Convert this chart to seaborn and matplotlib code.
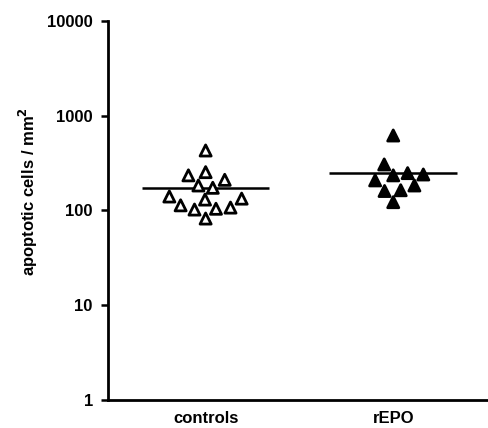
import numpy as np
import pandas as pd
import matplotlib
matplotlib.use("Agg")
import matplotlib.pyplot as plt
import seaborn as sns

categories = ["controls", "rEPO"]
controls = [428, 253, 210, 234, 173, 183, 133, 130, 140, 113, 104, 102, 107, 82]
repo = [616, 305, 239, 234, 247, 207, 163, 183, 160, 122]
yticks = [1, 10, 100, 1000, 10000]
ytick_labels = ["1", "10", "100", "1000", "10000"]

df = pd.DataFrame({
    "group": ["controls"] * len(controls) + ["rEPO"] * len(repo),
    "value": controls + repo,
})

sns.set_style("ticks", {"axes.edgecolor": "black", "text.color": "black",
                        "xtick.color": "black", "ytick.color": "black",
                        "axes.labelcolor": "black"})
plt.rcParams["font.family"] = ["Liberation Sans", "DejaVu Sans"]

fig = plt.figure(figsize=(4.89, 4.28), dpi=100)
ax = fig.add_axes([0.221, 0.0654, 0.775, 0.8862])
ax.set_yscale("log")

sns.swarmplot(data=df, x="group", y="value", hue="group", order=categories,
              palette={"controls": "white", "rEPO": "black"}, marker="^",
              size=8, edgecolor="black", linewidth=2, legend=False, ax=ax)

for i, vals in enumerate([controls, repo]):
    ax.hlines(np.mean(vals), i - 0.34, i + 0.34, color="black", lw=1.8, zorder=1)

ax.set_ylim(1, 10000)
ax.set_xlim(-0.52, 1.5)
ax.set_yticks(yticks)
ax.set_yticklabels(ytick_labels)
ax.yaxis.set_minor_locator(matplotlib.ticker.NullLocator())
ax.tick_params(axis="y", length=5, width=1.8, labelsize=12, pad=6, colors="black")
ax.tick_params(axis="x", length=0, labelsize=12, pad=8, colors="black")
for lab in ax.get_xticklabels() + ax.get_yticklabels():
    lab.set_fontweight("bold")
ax.set_xlabel("")
ax.set_ylabel("apoptotic cells / mm$^\\mathbf{2}$", fontsize=12, fontweight="bold")
ax.yaxis.set_label_coords(-0.18, 0.55)
sns.despine(ax=ax)
for s in ["left", "bottom"]:
    ax.spines[s].set_linewidth(2)

fig.savefig("out.png", dpi=100)
